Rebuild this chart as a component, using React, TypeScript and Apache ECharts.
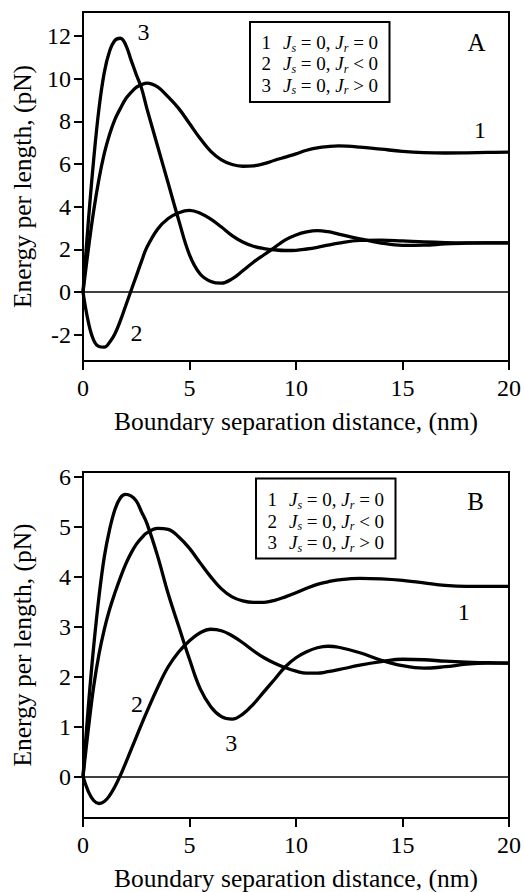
import React, { useEffect, useRef } from "react";
import * as echarts from "echarts";

// ---- data ----
const xDistance = [0, 0.25, 0.5, 0.75, 1, 1.25, 1.5, 1.75, 2, 2.25, 2.5, 2.75, 3, 3.5, 4, 4.5, 5, 5.5, 6, 6.5, 7, 7.5, 8, 8.5, 9, 9.5, 10, 10.5, 11, 11.5, 12, 13, 14, 15, 16, 17, 18, 19, 20];

const panelA_curve1 = [0, 2.0, 3.8, 5.3, 6.5, 7.4, 8.1, 8.6, 9.05, 9.35, 9.6, 9.72, 9.8, 9.62, 9.15, 8.6, 7.9, 7.2, 6.6, 6.2, 5.98, 5.9, 5.92, 6.02, 6.18, 6.33, 6.48, 6.65, 6.76, 6.82, 6.85, 6.8, 6.7, 6.6, 6.54, 6.52, 6.53, 6.55, 6.56];
const panelA_curve2 = [0, -1.4, -2.25, -2.55, -2.58, -2.35, -1.95, -1.35, -0.65, 0.05, 0.75, 1.45, 2.1, 2.95, 3.45, 3.72, 3.83, 3.7, 3.42, 3.05, 2.65, 2.35, 2.15, 2.04, 1.98, 1.95, 1.96, 2.02, 2.1, 2.2, 2.3, 2.42, 2.44, 2.4, 2.35, 2.32, 2.31, 2.31, 2.31];
const panelA_curve3 = [0, 3.3, 6.2, 8.6, 10.3, 11.3, 11.8, 11.9, 11.6, 10.9, 10.2, 9.55, 8.6, 6.85, 5.1, 3.35, 1.75, 0.85, 0.5, 0.42, 0.62, 1.0, 1.4, 1.75, 2.1, 2.45, 2.68, 2.82, 2.88, 2.83, 2.72, 2.5, 2.3, 2.19, 2.2, 2.26, 2.3, 2.31, 2.31];

const panelB_curve1 = [0, 0.95, 1.8, 2.45, 2.95, 3.35, 3.68, 3.98, 4.25, 4.47, 4.65, 4.78, 4.88, 4.97, 4.95, 4.8, 4.57, 4.28, 4.0, 3.76, 3.6, 3.52, 3.49, 3.49, 3.53, 3.6, 3.68, 3.77, 3.85, 3.9, 3.94, 3.97, 3.96, 3.93, 3.88, 3.83, 3.81, 3.81, 3.81];
const panelB_curve2 = [0, -0.3, -0.48, -0.54, -0.5, -0.38, -0.2, 0.02, 0.27, 0.53, 0.79, 1.05, 1.3, 1.78, 2.2, 2.5, 2.72, 2.88, 2.95, 2.92, 2.82, 2.68, 2.52, 2.38, 2.27, 2.18, 2.11, 2.07, 2.07, 2.1, 2.14, 2.23, 2.3, 2.35, 2.34, 2.31, 2.29, 2.28, 2.27];
const panelB_curve3 = [0, 1.4, 2.6, 3.6, 4.4, 4.95, 5.35, 5.58, 5.65, 5.62, 5.52, 5.3, 5.07, 4.42, 3.66, 3.0, 2.35, 1.76, 1.4, 1.2, 1.15, 1.25, 1.45, 1.7, 1.95, 2.2, 2.38, 2.5, 2.58, 2.61, 2.59, 2.48, 2.33, 2.22, 2.17, 2.2, 2.25, 2.27, 2.27];

const yTicksA = [-2, 0, 2, 4, 6, 8, 10, 12];
const yTicksB = [0, 1, 2, 3, 4, 5, 6];
const yRangeA = [-3.23, 13.13];
const yRangeB = [-0.83, 6.1];
const xRange = [0, 20];

const legendNumbers = ["1", "2", "3"];
const legendRelations = ["=", "<", ">"];

const xTitle = "Boundary separation distance, (nm)";
const yTitle = "Energy per length, (pN)";

const FONT = "'Liberation Serif', 'Times New Roman', serif";

function pairs(xs: number[], ys: number[]) {
  return xs.map((x, i) => [x, ys[i]]);
}

function lineSeries(ys: number[], idx: number, withZero: boolean) {
  const s: any = {
    type: "line",
    xAxisIndex: idx,
    yAxisIndex: idx,
    data: pairs(xDistance, ys),
    showSymbol: false,
    smooth: 0.4,
    lineStyle: { color: "#000", width: 3.3 },
    z: 3,
  };
  if (withZero) {
    s.markLine = {
      silent: true,
      symbol: ["none", "none"],
      label: { show: false },
      lineStyle: { color: "#000", width: 1.5, type: "solid" },
      data: [{ yAxis: 0 }],
    };
  }
  return s;
}

function xAxisCfg(idx: number) {
  return {
    gridIndex: idx,
    type: "value",
    min: xRange[0],
    max: xRange[1],
    interval: 5,
    name: xTitle,
    nameLocation: "middle",
    nameGap: 47,
    nameTextStyle: { color: "#000", fontSize: 25.5, fontFamily: FONT },
    axisLine: { show: true, onZero: false, lineStyle: { color: "#000", width: 2 } },
    axisTick: { show: true, length: 9, lineStyle: { color: "#000", width: 2 } },
    axisLabel: { color: "#000", fontSize: 24, fontFamily: FONT, margin: 15 },
    splitLine: { show: false },
  };
}

function yAxisCfg(idx: number, range: number[], ticks: number[]) {
  return {
    gridIndex: idx,
    type: "value",
    min: range[0],
    max: range[1],
    name: yTitle,
    nameLocation: "middle",
    nameGap: 48,
    nameTextStyle: { color: "#000", fontSize: 25.5, fontFamily: FONT },
    axisLine: { show: true, onZero: false, lineStyle: { color: "#000", width: 2 } },
    axisTick: { show: true, length: 9, customValues: ticks, lineStyle: { color: "#000", width: 2 } },
    axisLabel: { color: "#000", fontSize: 24, fontFamily: FONT, margin: 12, customValues: ticks },
    splitLine: { show: false },
  };
}

const richStyles = {
  num: { fontSize: 19, fontFamily: FONT, fill: "#000", width: 21.5, lineHeight: 22 },
  t: { fontSize: 19, fontFamily: FONT, fill: "#000", lineHeight: 22 },
  it: { fontSize: 19, fontFamily: FONT, fontStyle: "italic", fill: "#000", lineHeight: 22 },
  sub: { fontSize: 12, fontFamily: FONT, fontStyle: "italic", fill: "#000", lineHeight: 10, verticalAlign: "bottom" },
};

function legendGroup(boxX: number, boxY: number, textX: number, rowY: number[]) {
  const children: any[] = [
    {
      type: "rect",
      shape: { x: boxX, y: boxY, width: 139.5, height: 80 },
      style: { fill: "#fff", stroke: "#000", lineWidth: 2 },
      z: 10,
    },
  ];
  legendNumbers.forEach((n, i) => {
    const nb = "\u00A0";
    children.push({
      type: "text",
      x: textX,
      y: rowY[i],
      z: 11,
      style: {
        text: `{num|${n}}{it|J}{sub|s}{t|${nb}=${nb}0,${nb}}{it|J}{sub|r}{t|${nb}${legendRelations[i]}${nb}0}`,
        rich: richStyles,
        textAlign: "left",
        textVerticalAlign: "middle",
      },
    });
  });
  return children;
}

function label(text: string, x: number, y: number, size: number) {
  return {
    type: "text",
    x,
    y,
    z: 11,
    style: {
      text,
      fill: "#000",
      fontSize: size,
      fontFamily: FONT,
      textAlign: "center",
      textVerticalAlign: "middle",
    },
  };
}

export default function App() {
  const ref = useRef<HTMLDivElement>(null);
  useEffect(() => {
    if (!ref.current) return;
    const chart = echarts.init(ref.current, undefined, { renderer: "svg" });
    const option: any = {
      animation: false,
      backgroundColor: "#fff",
      textStyle: { fontFamily: FONT },
      grid: [
        { left: 83, top: 12, width: 426, height: 349, show: true, borderColor: "#000", borderWidth: 2, backgroundColor: "transparent" },
        { left: 83, top: 472, width: 426, height: 349, show: true, borderColor: "#000", borderWidth: 2, backgroundColor: "transparent" },
      ],
      xAxis: [xAxisCfg(0), xAxisCfg(1)],
      yAxis: [yAxisCfg(0, yRangeA, yTicksA), yAxisCfg(1, yRangeB, yTicksB)],
      series: [
        lineSeries(panelA_curve1, 0, true),
        lineSeries(panelA_curve2, 0, false),
        lineSeries(panelA_curve3, 0, false),
        lineSeries(panelB_curve1, 1, true),
        lineSeries(panelB_curve2, 1, false),
        lineSeries(panelB_curve3, 1, false),
      ],
      graphic: [
        ...legendGroup(250, 22, 261.5, [42.7, 63.8, 85]),
        ...legendGroup(256, 478.5, 267.5, [499.5, 521, 542.5]),
        label("A", 476.5, 42.5, 25),
        label("B", 475.5, 501.5, 25),
        label("3", 143.5, 31.7, 24),
        label("1", 480, 129.7, 24),
        label("2", 136.5, 332.5, 24),
        label("1", 463.7, 612, 24),
        label("2", 137, 704, 24),
        label("3", 231.3, 742.5, 24),
      ],
    };
    chart.setOption(option);
    return () => chart.dispose();
  }, []);
  return <div ref={ref} style={{ position: "absolute", left: 0, top: 0, width: 524, height: 892 }} />;
}
